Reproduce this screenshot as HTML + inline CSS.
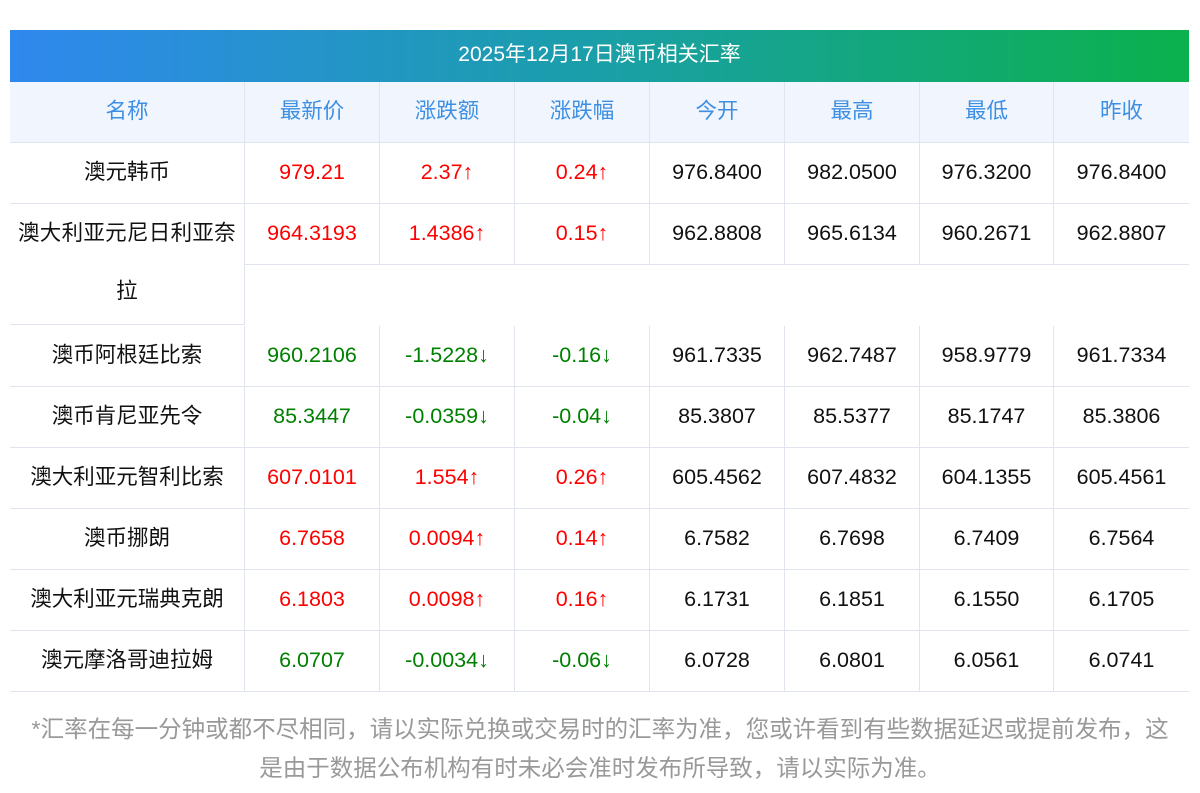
<!DOCTYPE html>
<html><head><meta charset="utf-8"><style>
body{margin:0;width:1200px;height:793px;background:#fff;position:relative;overflow:hidden;font-family:"Liberation Sans","Noto Sans CJK SC",sans-serif}
.t{position:absolute;left:10px;top:30px;width:1179px;height:52px;background:linear-gradient(90deg,#2f88ee,#1a9fa8 50%,#0bb14c);color:#fff;font-size:21px;line-height:50px;text-align:center}
.c{position:absolute;height:61px;line-height:58px;text-align:center;font-size:21.5px;color:#111;box-sizing:border-box;border-right:1px solid #dfe4ee;border-bottom:1px solid #dfe4ee;white-space:nowrap}
.h{background:#f1f6fe;color:#3d8fe3}
.r{color:#f00}.g{color:#008000}
.f{position:absolute;left:0;width:1200px;text-align:center;color:#999;font-size:23.5px;white-space:nowrap}
</style></head><body>
<div class="t">2025年12月17日澳币相关汇率</div>
<div id="tb"></div>
<div class="f" style="top:710px">*汇率在每一分钟或都不尽相同，请以实际兑换或交易时的汇率为准，您或许看到有些数据延迟或提前发布，这</div>
<div class="f" style="top:749px">是由于数据公布机构有时未必会准时发布所导致，请以实际为准。</div>
<script>
var X=[10,245,380,515,650,785,920,1054,1189];
var H=["名称","最新价","涨跌额","涨跌幅","今开","最高","最低","昨收"];
var D=[
["澳元韩币","979.21","2.37↑","0.24↑","976.8400","982.0500","976.3200","976.8400","r"],
["澳大利亚元尼日利亚奈","964.3193","1.4386↑","0.15↑","962.8808","965.6134","960.2671","962.8807","r"],
null,
["澳币阿根廷比索","960.2106","-1.5228↓","-0.16↓","961.7335","962.7487","958.9779","961.7334","g"],
["澳币肯尼亚先令","85.3447","-0.0359↓","-0.04↓","85.3807","85.5377","85.1747","85.3806","g"],
["澳大利亚元智利比索","607.0101","1.554↑","0.26↑","605.4562","607.4832","604.1355","605.4561","r"],
["澳币挪朗","6.7658","0.0094↑","0.14↑","6.7582","6.7698","6.7409","6.7564","r"],
["澳大利亚元瑞典克朗","6.1803","0.0098↑","0.16↑","6.1731","6.1851","6.1550","6.1705","r"],
["澳元摩洛哥迪拉姆","6.0707","-0.0034↓","-0.06↓","6.0728","6.0801","6.0561","6.0741","g"]];
var s="";
function cell(i,y,cls,txt){var w=X[i+1]-X[i];s+='<div class="c '+cls+'" style="left:'+X[i]+'px;top:'+y+'px;width:'+w+'px;'+(i==7?'border-right:none;':'')+'">'+txt+'</div>';}
for(var i=0;i<8;i++)cell(i,82,"h",H[i]);
for(var r=0;r<D.length;r++){var d=D[r];if(!d)continue;var y=143+61*r;
for(var i=0;i<8;i++){var cl=(i>=1&&i<=3)?d[8]:"";
if(r==1&&i==0){s+='<div class="c" style="left:10px;top:204px;width:235px;height:121px;line-height:58px;letter-spacing:0.3px">澳大利亚元尼日利亚奈<br>拉</div>';continue;}
cell(i,y,cl,d[i]);}}
document.getElementById("tb").innerHTML=s;
</script>
</body></html>
